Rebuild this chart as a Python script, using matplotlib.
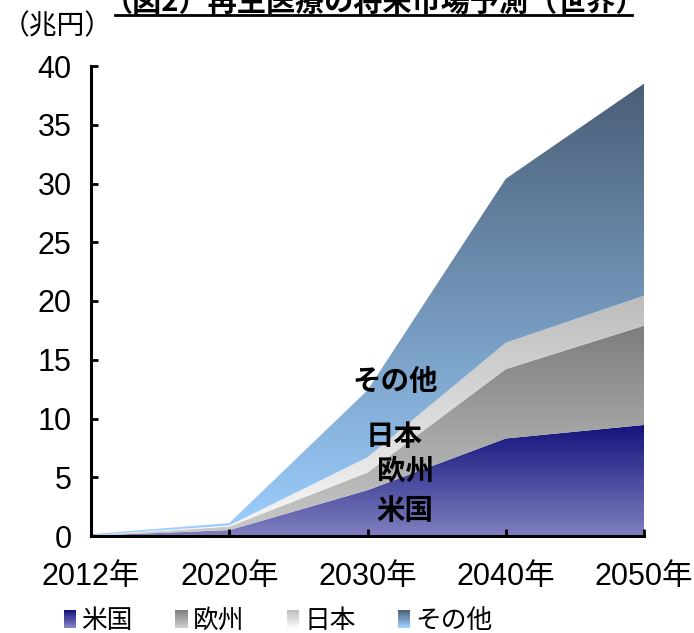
import numpy as np
import matplotlib
matplotlib.use("Agg")
import matplotlib.pyplot as plt
from matplotlib.colors import LinearSegmentedColormap
from matplotlib.patches import Rectangle, Polygon
from matplotlib.legend_handler import HandlerBase
from matplotlib.lines import Line2D

# ----- data (兆円, per region, stacked) -----
years = ["2012年", "2020年", "2030年", "2040年", "2050年"]
names = ["米国", "欧州", "日本", "その他"]
us = [0.03, 0.5, 3.9, 8.3, 9.45]
eu = [0.02, 0.3, 1.5, 5.9, 8.45]
jp = [0.01, 0.1, 1.3, 2.25, 2.55]
other = [0.1, 0.2, 5.7, 13.95, 18.05]
y_ticks = [0, 5, 10, 15, 20, 25, 30, 35, 40]

# gradient colours (bottom, top)
grads = [("#8080c0", "#12127c"),
         ("#cbcbcb", "#7d7d7d"),
         ("#f8f8f8", "#bdbdbd"),
         ("#9dcfff", "#4a5e76")]

JP = "Noto Sans CJK JP"
LAT = ["Liberation Sans", JP]

fig = plt.figure(figsize=(6.94, 6.33), dpi=100)
ax = fig.add_axes([91 / 694, 1 - 536 / 633, 553 / 694, 470 / 633])

x = np.arange(len(years))
series = [us, eu, jp, other]
lo = np.zeros(len(years))
for vals, (cb, ct) in zip(series, grads):
    hi = lo + np.array(vals)
    verts = np.concatenate([np.column_stack([x, hi]),
                            np.column_stack([x[::-1], lo[::-1]])])
    patch = Polygon(verts, closed=True, facecolor="none", edgecolor="none")
    ax.add_patch(patch)
    cmap = LinearSegmentedColormap.from_list("g", [cb, ct])
    grad = np.linspace(0, 1, 256).reshape(-1, 1)
    im = ax.imshow(grad, cmap=cmap, aspect="auto", origin="lower",
                   extent=[x[0], x[-1], lo.min(), hi.max()],
                   interpolation="bilinear")
    im.set_clip_path(patch)
    lo = hi

ax.set_xlim(x[0], x[-1])
ax.set_ylim(0, 40)
ax.set_xticks(x)
ax.set_xticklabels(years, family=LAT, fontsize=22)
ax.set_yticks(y_ticks)
ax.set_yticklabels([str(t) for t in y_ticks], family=LAT, fontsize=22)
ax.tick_params(direction="in", length=5, width=2, colors="black")
ax.tick_params(axis="x", pad=19)
ax.tick_params(axis="y", pad=14)
for s in ["top", "right"]:
    ax.spines[s].set_visible(False)
for s in ["left", "bottom"]:
    ax.spines[s].set_linewidth(2.2)

# inline labels
lab_kw = dict(transform=ax.transAxes, ha="center", va="center",
              fontsize=20.5, fontweight="bold", family=JP)
ax.text(0.55, 0.328, "その他", **lab_kw)
ax.text(0.548, 0.211, "日本", **lab_kw)
ax.text(0.568, 0.136, "欧州", **lab_kw)
ax.text(0.568, 0.053, "米国", **lab_kw)

# unit label and (cut) title
fig.text(57 / 694, 1 - 26 / 633, "（兆円）", ha="center", va="center",
         fontsize=20, family=JP)
fig.text(374 / 694, 1 - 11 / 633, "（図2）再生医療の将来市場予測（世界）",
         ha="center", va="baseline", fontsize=21, fontweight="bold", family=JP)
fig.add_artist(Line2D([115 / 694, 632 / 694], [1 - 15 / 633, 1 - 15 / 633],
                      transform=fig.transFigure, color="black", lw=2))


class GradHandler(HandlerBase):
    def __init__(self, cb, ct):
        super().__init__()
        self.cmap = LinearSegmentedColormap.from_list("h", [cb, ct])

    def create_artists(self, legend, orig_handle, xdescent, ydescent,
                       width, height, fontsize, trans):
        n = 16
        out = []
        for i in range(n):
            r = Rectangle((-xdescent, -ydescent + height * (n - 1 - i) / n),
                          width, height / n + 0.3,
                          facecolor=self.cmap(1 - i / (n - 1)), lw=0,
                          transform=trans)
            out.append(r)
        return out


handles = [Rectangle((0, 0), 1, 1) for _ in names]
hmap = {h: GradHandler(cb, ct) for h, (cb, ct) in zip(handles, grads)}
fig.legend(handles, names, handler_map=hmap, loc="center left",
           bbox_to_anchor=(64 / 694, 1 - 621 / 633), ncol=4, frameon=False,
           prop={"family": JP, "size": 18.5}, handlelength=0.48,
           handleheight=0.65, handletextpad=0.2, columnspacing=1.65,
           borderpad=0, borderaxespad=0)

fig.savefig("out.png", dpi=100)
